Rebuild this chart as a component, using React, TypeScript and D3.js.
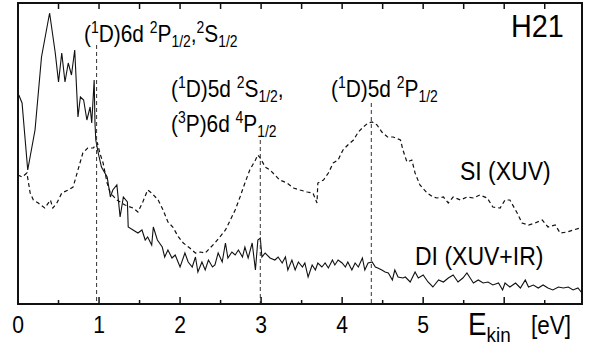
import React, { useEffect, useRef } from "react";
import * as d3 from "d3";

// photoelectron spectra, H21 — energy in eV, intensity in arbitrary units
const diEnergy = [0.01, 0.05, 0.12, 0.21, 0.29, 0.39, 0.46, 0.5, 0.54, 0.58, 0.62, 0.66, 0.7, 0.74, 0.77, 0.81, 0.85, 0.89, 0.91, 0.94, 0.95, 0.96, 0.99, 1.03, 1.1, 1.14, 1.17, 1.22, 1.26, 1.3, 1.35, 1.36, 1.42, 1.48, 1.53, 1.57, 1.6, 1.65, 1.67, 1.72, 1.78, 1.81, 1.85, 1.9, 1.94, 2.0, 2.06, 2.1, 2.15, 2.19, 2.22, 2.27, 2.31, 2.35, 2.4, 2.43, 2.47, 2.52, 2.56, 2.59, 2.64, 2.68, 2.72, 2.77, 2.8, 2.84, 2.89, 2.93, 2.96, 2.99, 3.01, 3.05, 3.11, 3.17, 3.21, 3.26, 3.3, 3.33, 3.38, 3.42, 3.46, 3.51, 3.54, 3.58, 3.63, 3.67, 3.7, 3.75, 3.79, 3.83, 3.88, 3.91, 3.95, 4.0, 4.04, 4.07, 4.12, 4.16, 4.2, 4.25, 4.28, 4.32, 4.37, 4.41, 4.44, 4.49, 4.53, 4.57, 4.62, 4.65, 4.69, 4.75, 4.78, 4.84, 4.9, 4.94, 5.0, 5.06, 5.12, 5.19, 5.25, 5.31, 5.37, 5.43, 5.49, 5.54, 5.58, 5.62, 5.68, 5.74, 5.8, 5.86, 5.93, 5.98, 6.01, 6.07, 6.14, 6.2, 6.26, 6.3, 6.36, 6.42, 6.48, 6.54, 6.6, 6.67, 6.73, 6.79, 6.85, 6.91, 6.96];
const diSignal = [209, 201, 134, 174, 247, 291, 251, 222, 251, 222, 241, 229, 254, 187, 207, 204, 184, 197, 181, 224, 181, 164, 151, 137, 127, 107, 114, 119, 87, 107, 102, 77, 74, 71, 74, 64, 67, 59, 77, 64, 57, 47, 54, 46, 49, 37, 51, 42, 37, 47, 32, 42, 34, 44, 37, 39, 51, 42, 61, 46, 52, 49, 54, 47, 57, 46, 61, 34, 64, 66, 47, 51, 46, 44, 47, 41, 47, 34, 44, 34, 42, 37, 41, 27, 39, 34, 41, 37, 41, 36, 44, 39, 44, 41, 37, 42, 34, 41, 37, 46, 34, 41, 42, 37, 36, 34, 32, 31, 24, 34, 27, 26, 27, 22, 32, 26, 29, 22, 17, 24, 22, 26, 29, 22, 26, 31, 26, 21, 24, 21, 22, 19, 21, 14, 21, 17, 21, 16, 24, 17, 19, 16, 19, 16, 14, 17, 16, 17, 14, 16, 11];

const siEnergy = [0.0, 0.05, 0.11, 0.15, 0.19, 0.25, 0.33, 0.4, 0.43, 0.48, 0.54, 0.62, 0.68, 0.74, 0.8, 0.86, 0.93, 0.98, 1.01, 1.05, 1.1, 1.14, 1.22, 1.32, 1.42, 1.48, 1.54, 1.6, 1.65, 1.73, 1.79, 1.85, 1.91, 1.98, 2.04, 2.12, 2.19, 2.25, 2.31, 2.37, 2.43, 2.49, 2.56, 2.62, 2.68, 2.74, 2.8, 2.86, 2.93, 2.96, 2.99, 3.05, 3.11, 3.17, 3.23, 3.32, 3.4, 3.48, 3.57, 3.64, 3.69, 3.7, 3.77, 3.83, 3.89, 3.95, 4.01, 4.07, 4.14, 4.2, 4.26, 4.32, 4.37, 4.43, 4.49, 4.56, 4.63, 4.72, 4.75, 4.8, 4.86, 4.9, 4.96, 5.05, 5.12, 5.17, 5.25, 5.31, 5.37, 5.46, 5.54, 5.62, 5.7, 5.79, 5.86, 5.95, 6.01, 6.07, 6.16, 6.22, 6.3, 6.38, 6.47, 6.54, 6.63, 6.69, 6.78, 6.85, 6.94];
const siSignal = [129, 127, 131, 111, 104, 101, 96, 104, 96, 101, 111, 114, 117, 134, 151, 156, 156, 161, 151, 141, 121, 111, 104, 99, 96, 92, 102, 114, 111, 104, 94, 82, 77, 67, 61, 56, 51, 52, 51, 56, 61, 67, 74, 84, 94, 107, 121, 134, 144, 149, 146, 137, 134, 129, 124, 121, 116, 114, 112, 111, 101, 121, 124, 131, 141, 144, 154, 159, 164, 172, 177, 181, 182, 179, 172, 167, 167, 164, 154, 142, 144, 131, 119, 111, 107, 106, 107, 101, 107, 104, 107, 106, 109, 106, 97, 96, 104, 104, 91, 81, 79, 81, 84, 77, 79, 71, 72, 74, 76];

// resonance markers: energy and top of the dashed line
const markerEnergy = [0.97, 2.99, 4.36];
const markerTop = [259, 164, 201];

const xTicks = d3.range(0, 7, 0.5);
const xLabels = [0, 1, 2, 3, 4, 5];

type Seg = { t: string; s?: "sup" | "sub" };
const labels: { x: number; y: number; segs: Seg[] }[] = [
  { x: 84, y: 42, segs: [{ t: "(" }, { t: "1", s: "sup" }, { t: "D)6d " }, { t: "2", s: "sup" }, { t: "P" }, { t: "1/2", s: "sub" }, { t: "," }, { t: "2", s: "sup" }, { t: "S" }, { t: "1/2", s: "sub" }] },
  { x: 171, y: 97, segs: [{ t: "(" }, { t: "1", s: "sup" }, { t: "D)5d " }, { t: "2", s: "sup" }, { t: "S" }, { t: "1/2", s: "sub" }, { t: "," }] },
  { x: 171, y: 132, segs: [{ t: "(" }, { t: "3", s: "sup" }, { t: "P)6d " }, { t: "4", s: "sup" }, { t: "P" }, { t: "1/2", s: "sub" }] },
  { x: 331, y: 97, segs: [{ t: "(" }, { t: "1", s: "sup" }, { t: "D)5d " }, { t: "2", s: "sup" }, { t: "P" }, { t: "1/2", s: "sub" }] },
];

const W = 590;
const H = 347;
const margin = { top: 3, right: 8, bottom: 43, left: 18 };

export default function App() {
  const svgRef = useRef<SVGSVGElement | null>(null);

  useEffect(() => {
    const svg = d3.select(svgRef.current);
    svg.selectAll("*").remove();
    const font = "'Liberation Sans', Arial, sans-serif";

    const x = d3.scaleLinear().domain([0, 6.96]).range([margin.left, W - margin.right]);
    const y = d3.scaleLinear().domain([0, 301]).range([H - margin.bottom, margin.top]);
    const [y0, y1] = y.range();

    // narrow-looking text: scale glyphs horizontally around the anchor point
    const addText = (px: number, py: number, size: number, str: string, sx = 0.88) =>
      svg
        .append("g")
        .attr("transform", `translate(${px},${py}) scale(${sx},1)`)
        .append("text")
        .attr("font-family", font)
        .attr("font-size", size)
        .text(str);

    // SI (dashed)
    svg
      .append("path")
      .attr("d", d3.line<number>().x((d) => x(d)).y((_, i) => y(siSignal[i]))(siEnergy))
      .attr("fill", "none")
      .attr("stroke", "#111")
      .attr("stroke-width", 1.2)
      .attr("stroke-dasharray", "4,3");

    // DI (solid)
    svg
      .append("path")
      .attr("d", d3.line<number>().x((d) => x(d)).y((_, i) => y(diSignal[i]))(diEnergy))
      .attr("fill", "none")
      .attr("stroke", "#111")
      .attr("stroke-width", 1.1);

    // markers
    svg
      .selectAll(".marker")
      .data(markerEnergy)
      .join("line")
      .attr("x1", (d) => x(d))
      .attr("x2", (d) => x(d))
      .attr("y1", (_, i) => y(markerTop[i]))
      .attr("y2", y0)
      .attr("stroke", "#333")
      .attr("stroke-width", 1)
      .attr("stroke-dasharray", "4,3");

    // frame
    svg
      .append("rect")
      .attr("x", x(0))
      .attr("y", y1)
      .attr("width", x(6.96) - x(0))
      .attr("height", y0 - y1)
      .attr("fill", "none")
      .attr("stroke", "#111")
      .attr("stroke-width", 2);

    // ticks
    svg
      .selectAll(".tb")
      .data(xTicks.slice(1))
      .join("line")
      .attr("x1", (d) => x(d))
      .attr("x2", (d) => x(d))
      .attr("y1", y0)
      .attr("y2", (d) => y0 - (d % 1 === 0 ? 7 : 4))
      .attr("stroke", "#111")
      .attr("stroke-width", 1.5);
    svg
      .selectAll(".tt")
      .data(xTicks.slice(1))
      .join("line")
      .attr("x1", (d) => x(d))
      .attr("x2", (d) => x(d))
      .attr("y1", y1)
      .attr("y2", y1 + 6)
      .attr("stroke", "#111")
      .attr("stroke-width", 1.5);

    xLabels.forEach((d) => {
      addText(x(d), 333, 24, String(d)).attr("text-anchor", "middle");
    });

    // axis title
    const t = svg
      .append("g")
      .attr("transform", "translate(468,335) scale(0.9,1)")
      .append("text")
      .attr("font-family", font)
      .attr("font-size", 31);
    t.append("tspan").text("E");
    t.append("tspan").attr("font-size", 21).attr("dy", 7).text("kin");
    addText(531, 334, 25, "[eV]", 0.9);

    addText(511, 37, 32, "H21", 0.9);
    addText(460, 180, 25, "SI (XUV)", 0.92);
    addText(415, 265, 25, "DI (XUV+IR)", 0.92);

    // state labels with super/subscripts
    labels.forEach((lab) => {
      const txt = svg
        .append("g")
        .attr("transform", `translate(${lab.x},${lab.y}) scale(0.87,1)`)
        .append("text")
        .attr("font-family", font)
        .attr("font-size", 24);
      let off = 0;
      lab.segs.forEach((s) => {
        const target = s.s === "sup" ? -9 : s.s === "sub" ? 5 : 0;
        txt
          .append("tspan")
          .attr("dy", target - off)
          .attr("font-size", s.s ? 16 : 24)
          .text(s.t);
        off = target;
      });
    });
  }, []);

  return (
    <svg
      ref={svgRef}
      width={W}
      height={H}
      style={{ position: "absolute", left: 0, top: 0, background: "#fff" }}
    />
  );
}
